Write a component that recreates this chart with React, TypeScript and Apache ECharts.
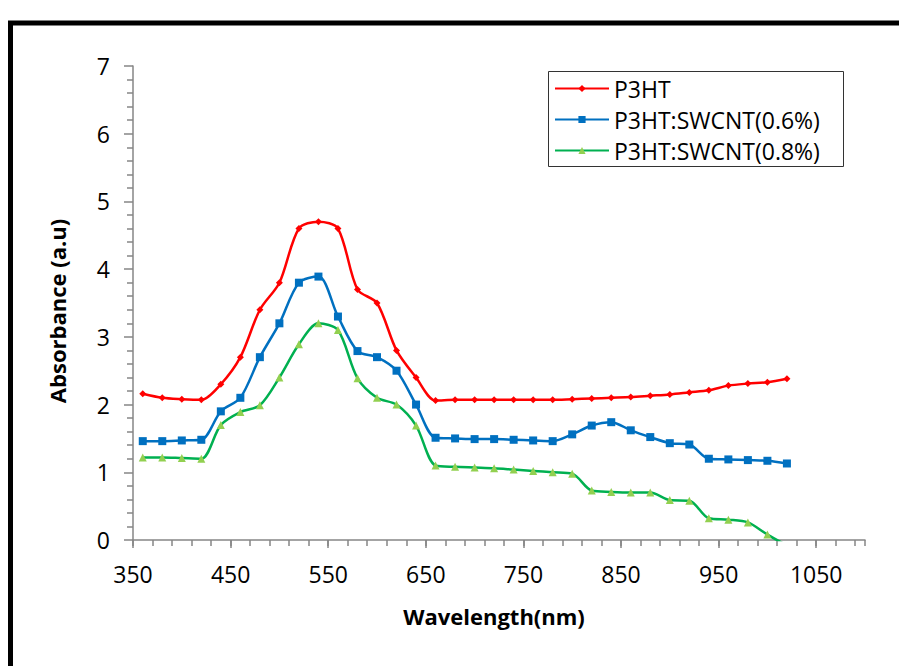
import React, { useEffect, useRef } from "react";
import * as echarts from "echarts";

const wavelengths = [
  360, 380, 400, 420, 440, 460, 480, 500, 520, 540, 560, 580, 600, 620, 640, 660, 680,
  700, 720, 740, 760, 780, 800, 820, 840, 860, 880, 900, 920, 940, 960, 980, 1000, 1020,
];

const p3ht = [
  2.16, 2.1, 2.08, 2.07, 2.3, 2.7, 3.4, 3.8, 4.6, 4.7, 4.6, 3.7, 3.5, 2.8, 2.4, 2.06, 2.07,
  2.07, 2.07, 2.07, 2.07, 2.07, 2.08, 2.09, 2.1, 2.11, 2.13, 2.15, 2.18, 2.21, 2.28, 2.31, 2.33, 2.38,
];

const swcnt06 = [
  1.46, 1.46, 1.47, 1.48, 1.9, 2.1, 2.7, 3.2, 3.8, 3.89, 3.3, 2.79, 2.7, 2.5, 2.0, 1.51, 1.5,
  1.49, 1.49, 1.48, 1.47, 1.46, 1.56, 1.69, 1.74, 1.62, 1.52, 1.43, 1.41, 1.2, 1.19, 1.18, 1.17, 1.13,
];

const swcnt08 = [
  1.22, 1.22, 1.21, 1.2, 1.7, 1.89, 1.99, 2.4, 2.89, 3.2, 3.1, 2.39, 2.1, 2.0, 1.69, 1.1, 1.08,
  1.07, 1.06, 1.04, 1.02, 1.0, 0.98, 0.73, 0.71, 0.7, 0.7, 0.59, 0.58, 0.32, 0.3, 0.26, 0.08, -0.08,
];

const seriesNames = ["P3HT", "P3HT:SWCNT(0.6%)", "P3HT:SWCNT(0.8%)"];
const xAxisTitle = "Wavelength(nm)";
const yAxisTitle = "Absorbance (a.u)";

const FONT = "Open Sans";
const AXIS_COLOR = "#868686";

export default function App() {
  const ref = useRef<HTMLDivElement>(null);

  useEffect(() => {
    if (!ref.current) return;
    const chart = echarts.init(ref.current, undefined, { renderer: "svg" });

    const pairs = (vals: number[]) => wavelengths.map((w, i) => [w, vals[i]]);

    const option: any = {
      animation: false,
      backgroundColor: "#ffffff",
      textStyle: { fontFamily: FONT },
      grid: {
        left: 133,
        top: 66,
        width: 732,
        height: 474,
        containLabel: false,
        outerBoundsMode: "none",
      },
      legend: {
        orient: "vertical",
        left: 554,
        top: 77,
        itemWidth: 54,
        itemHeight: 9,
        itemGap: 8,
        padding: 0,
        textStyle: {
          fontFamily: FONT,
          fontSize: 23,
          lineHeight: 23,
          color: "#000",
        },
        data: seriesNames,
      },
      xAxis: [
        {
          type: "value",
          min: 350,
          max: 1100,
          interval: 100,
          position: "bottom",
          axisLine: { show: true, onZero: false, lineStyle: { color: AXIS_COLOR, width: 1.5 } },
          axisTick: { show: true, length: 8, lineStyle: { color: AXIS_COLOR, width: 1.5 } },
          axisLabel: {
            show: true,
            showMaxLabel: false,
            margin: 22,
            fontFamily: FONT,
            fontSize: 23,
            color: "#000",
            formatter: (v: number) => String(v),
          },
          splitLine: { show: false },
        },
        {
          type: "value",
          min: 350,
          max: 1100,
          interval: 20,
          position: "bottom",
          axisLine: { show: false, onZero: false },
          axisTick: { show: true, length: 6, lineStyle: { color: AXIS_COLOR, width: 1.5 } },
          axisLabel: { show: false },
          splitLine: { show: false },
        },
      ],
      yAxis: {
        type: "value",
        min: 0,
        max: 7,
        interval: 1,
        axisLine: { show: true, onZero: false, lineStyle: { color: AXIS_COLOR, width: 1.5 } },
        axisTick: { show: true, length: 9, lineStyle: { color: AXIS_COLOR, width: 1.5 } },
        minorTick: { show: true, splitNumber: 5, length: 6, lineStyle: { color: AXIS_COLOR, width: 1.5 } },
        axisLabel: {
          margin: 23,
          fontFamily: FONT,
          fontSize: 23,
          color: "#000",
          formatter: (v: number) => String(v),
        },
        splitLine: { show: false },
        minorSplitLine: { show: false },
      },
      series: [
        {
          name: seriesNames[0],
          type: "line",
          xAxisIndex: 0,
          data: pairs(p3ht),
          smooth: 0.3,
          symbol: "diamond",
          symbolSize: 7,
          lineStyle: { color: "#FF0000", width: 2.5 },
          itemStyle: { color: "#FF0000" },
          clip: true,
        },
        {
          name: seriesNames[1],
          type: "line",
          xAxisIndex: 0,
          data: pairs(swcnt06),
          smooth: 0.3,
          symbol: "rect",
          symbolSize: 8,
          lineStyle: { color: "#0070C0", width: 2.5 },
          itemStyle: { color: "#0070C0" },
          clip: true,
        },
        {
          name: seriesNames[2],
          type: "line",
          xAxisIndex: 0,
          data: pairs(swcnt08),
          smooth: 0.3,
          symbol: "triangle",
          symbolSize: 8,
          lineStyle: { color: "#00B050", width: 2.5 },
          itemStyle: { color: "#92D050" },
          clip: true,
        },
      ],
      graphic: [
        {
          type: "rect",
          silent: true,
          shape: { x: 10.5, y: 23, width: 1000, height: 1000 },
          style: { fill: "none", stroke: "#000", lineWidth: 5 },
        },
        {
          type: "rect",
          silent: true,
          shape: { x: 548.5, y: 71.5, width: 295, height: 95 },
          style: { fill: "none", stroke: "#333", lineWidth: 1 },
        },
        {
          type: "text",
          silent: true,
          x: 494,
          y: 616,
          style: {
            text: xAxisTitle,
            fontFamily: FONT,
            fontWeight: "bold",
            fontSize: 22,
            fill: "#000",
            align: "center",
            verticalAlign: "middle",
          },
        },
        {
          type: "text",
          silent: true,
          x: 57,
          y: 311,
          rotation: Math.PI / 2,
          style: {
            text: yAxisTitle,
            fontFamily: FONT,
            fontWeight: "bold",
            fontSize: 22,
            fill: "#000",
            align: "center",
            verticalAlign: "middle",
          },
        },
      ],
    };

    chart.setOption(option);
    return () => chart.dispose();
  }, []);

  return (
    <div
      ref={ref}
      style={{ position: "fixed", left: 0, top: 0, width: 899, height: 666, background: "#fff" }}
    />
  );
}
